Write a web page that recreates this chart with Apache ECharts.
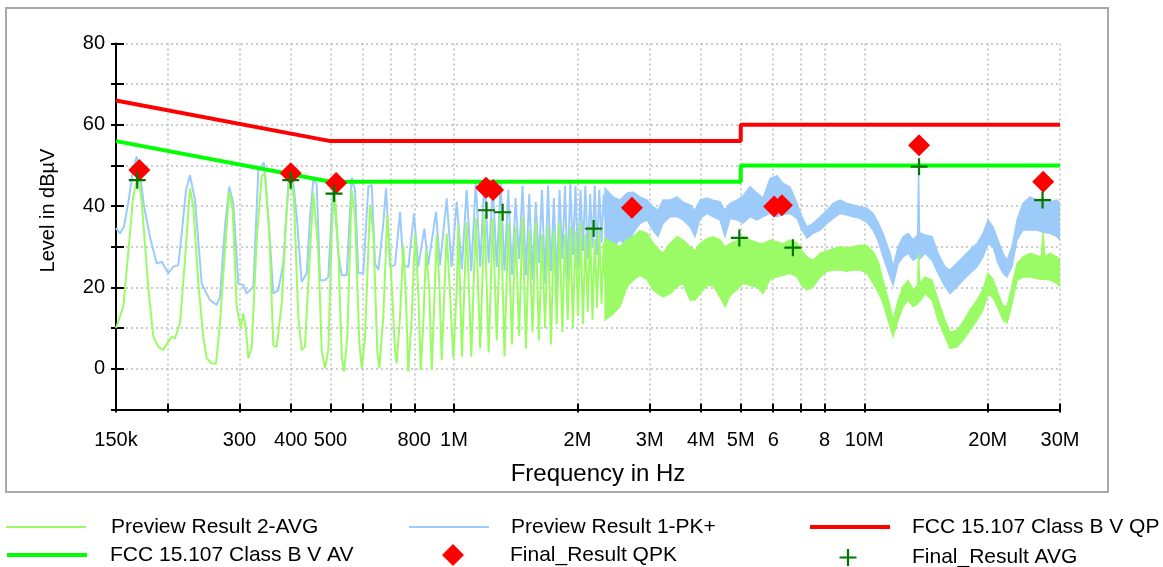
<!DOCTYPE html>
<html>
<head>
<meta charset="utf-8">
<script src="https://cdn.jsdelivr.net/npm/echarts@6/dist/echarts.min.js"></script>
<style>
html,body{margin:0;padding:0;background:#ffffff;}
#chart{width:1163px;height:567px;}
</style>
</head>
<body>
<div id="chart"></div>
<script>
// ---------------- axis ticks (frequency in MHz) ----------------
const xTickValues  = [0.15,0.2,0.3,0.4,0.5,0.6,0.7,0.8,1,2,3,4,5,6,7,8,10,20,30];
const xLabelValues = [0.15,0.3,0.4,0.5,0.8,1,2,3,4,5,6,8,10,20,30];
const xLabelTexts  = ['150k','300','400','500','800','1M','2M','3M','4M','5M','6','8','10M','20M','30M'];
const yLabelValues = [0,20,40,60,80];

// ---------------- Preview Result 1-PK+ : [MHz, dBµV] ----------------
const pkPreviewLine = [
[0.150,34.6],[0.1534,33.3],[0.1569,35.0],[0.1614,42],[0.1650,49],[0.1685,52.2],[0.1716,48],[0.1755,40],
[0.1815,32.5],[0.1885,25.9],[0.1938,26.3],[0.2012,23.5],[0.2069,25.1],[0.2128,25.5],[0.2169,33.3],[0.2222,44],
[0.2272,47.6],[0.2337,41.5],[0.2426,21],[0.2542,16.9],[0.2639,15.7],[0.2689,17.7],[0.2765,34.9],[0.2833,44.8],
[0.2897,40.7],[0.2980,21],[0.3065,20.6],[0.3124,18.5],[0.3242,20.2],[0.3334,48.9],[0.3442,50.7],[0.3526,37.4],
[0.3627,18.5],[0.3730,19.4],[0.3836,25.9],[0.3945,45.6],[0.4021,49.5],[0.4136,37.4],[0.4254,21.4],[0.4375,23.5],
[0.4457,37.4],[0.4540,46.4],[0.4627,45.6],[0.4714,21.8],[0.4848,21.8],[0.4939,22.6],[0.5079,45.5],[0.5224,28.4],
[0.5325,23],[0.5476,23],[0.5632,47],[0.5737,44],[0.5844,23.5],[0.6011,23.5],[0.6182,44.8],[0.6301,45.2],
[0.6419,25.9],[0.6539,24.3],[0.6714,35],[0.6828,44.4],[0.6983,25.1],[0.7181,25.5],[0.7385,38.6],[0.7523,25.5],
[0.7737,25],[0.7989,38.2],[0.8180,25],[0.8465,34.5],[0.8652,25.5],[0.9039,38.6],[0.9244,25.5],[0.9598,41.9],
[0.9866,25],[1.0153,41.1],[1.0453,24.5],[1.0735,44],[1.1018,24],[1.130,46],[1.1583,25],[1.1865,47],
[1.2148,26],[1.243,45],[1.2713,25],[1.2995,46],[1.3278,24],[1.356,44],[1.3843,23],[1.4125,42],
[1.4408,27],[1.469,45],[1.4973,23],[1.5255,43],[1.5538,22],[1.582,41],[1.6103,26],[1.6385,44],
[1.6668,21],[1.695,45],[1.7233,24],[1.7515,42],[1.7798,20],[1.808,44],[1.8363,27],[1.8645,45],
[1.8928,22],[1.921,46],[1.9493,28],[1.9775,45],[2.0058,25],[2.034,44],[2.0623,29],[2.0905,45],
[2.1188,27],[2.147,43],[2.1753,30],[2.2035,45],[2.2318,28],[2.26,44],[2.2883,31],[2.3165,43],[2.334,37]
];
// dense part of the PK+ trace: [MHz, lower edge, upper edge]
const pkPreviewBand = [
[2.334,31.0,44.4],[2.441,30.0,42.3],[2.539,31.7,41.5],[2.640,30.0,43.2],[2.731,33.3,43.5],[2.840,35.8,42.3],
[2.954,36.6,41.5],[3.055,34.1,39.9],[3.142,32.5,39.0],[3.232,35.8,41.5],[3.361,37.4,41.5],[3.496,37.4,42.3],
[3.616,36.6,41.0],[3.761,34.9,40.3],[3.868,32.5,39.0],[3.978,37.0,41.5],[4.137,38.2,42.0],[4.279,37.4,41.5],
[4.451,36.6,41.1],[4.577,32.5,39.0],[4.707,37.0,40.7],[4.896,36.6,41.5],[5.064,35.8,42.5],[5.267,37.4,44.8],
[5.477,36.6,43.2],[5.665,37.4,42.0],[5.892,38.2,46.8],[6.128,37.4,47.5],[6.338,38.0,45.6],[6.591,38.2,44.8],
[6.855,37.0,40.7],[7.050,34.1,37.4],[7.251,32.1,34.9],[7.504,33.3,35.8],[7.805,34.1,37.4],[8.118,35.8,39.0],
[8.396,37.0,40.7],[8.732,38.2,41.5],[9.081,37.8,40.7],[9.393,37.4,40.3],[9.769,37.0,39.9],[10.160,36.0,39.5],
[10.508,34.1,38.2],[10.807,31.5,36.0],[11.115,27.5,33.3],[11.560,22.6,28.4],[11.756,20.6,25.1],[12.091,25.9,30.0],
[12.435,27.5,32.5],[12.789,28.4,33.3],[13.152,26.7,31.7],[13.489,27.5,33.0],[13.565,28.0,49.0],[13.641,27.0,33.5],
[14.069,28.4,32.9],[14.634,26.7,32.5],[15.127,23.5,28.4],[15.733,20.2,25.1],[16.180,18.5,24.3],[16.829,20.2,26.0],
[17.406,21.8,27.5],[18.104,23.5,29.2],[18.830,25.1,30.8],[19.475,27.5,33.3],[20.029,30.8,36.6],[20.599,30.0,34.9],
[21.185,25.9,31.7],[21.787,23.5,28.4],[22.282,22.6,26.7],[22.916,25.1,30.0],[23.568,31.7,36.6],[24.375,34.1,40.7],
[25.352,34.1,42.3],[26.368,34.1,41.5],[26.967,33.8,41.0],[27.271,33.5,42.0],[27.579,33.5,41.0],[28.363,33.3,41.1],
[29.500,32.5,41.5],[30.0,31.7,40.7]
];

// ---------------- Preview Result 2-AVG : [MHz, dBµV] ----------------
const avgPreviewLine = [
[0.150,10],[0.1563,15.3],[0.1605,28],[0.1650,42],[0.1700,48.1],[0.1736,40],[0.1798,20],[0.1849,8],
[0.1902,5.4],[0.1956,4.6],[0.2012,6.7],[0.2051,7.9],[0.2089,7.5],[0.2148,11.2],[0.2209,26.7],[0.2272,44.4],
[0.2315,39.9],[0.2381,21],[0.2448,7.9],[0.2496,2.6],[0.2567,1.3],[0.2629,1.3],[0.2689,11.2],[0.2765,29.2],
[0.2833,43.5],[0.2888,39],[0.2953,15.3],[0.3021,10],[0.3065,13.6],[0.3111,9.5],[0.3152,2.6],[0.3213,5.4],
[0.3304,31.7],[0.3398,47.4],[0.3462,48.1],[0.3546,33.3],[0.3627,5.8],[0.3697,5.4],[0.3802,16.1],[0.3910,39],
[0.3984,48.1],[0.4073,41.5],[0.4173,12.8],[0.4254,4.6],[0.4333,5.4],[0.4414,21],[0.4540,43.2],[0.4669,29.2],
[0.4759,4.6],[0.4848,0.1],[0.4939,4.6],[0.5034,33.3],[0.5108,45],[0.5224,29.2],[0.5325,3],[0.5394,-0.7],
[0.5495,7.9],[0.5632,44],[0.5737,37.4],[0.5878,6.3],[0.5957,0.1],[0.6069,7.9],[0.6241,40.3],[0.6358,33.3],
[0.6502,4.6],[0.6576,0.1],[0.6725,12.8],[0.6878,37.8],[0.7010,25.1],[0.7181,4.6],[0.7250,1.3],[0.7385,12.8],
[0.7523,30.4],[0.7638,16.9],[0.7737,-0.7],[0.7887,12.8],[0.8034,32.9],[0.8180,19.4],[0.8295,-0.3],[0.8417,11.2],
[0.8546,29.2],[0.8705,19.4],[0.8823,-0.3],[0.8938,14.4],[0.9074,32.9],[0.9208,21],[0.9333,2.1],[0.9454,16.9],
[0.9598,33.3],[0.9777,18.5],[0.9960,2.6],[1.0153,19.4],[1.0244,35.3],[1.0453,3],[1.0735,36],[1.1018,3],
[1.130,37],[1.1583,5],[1.1865,38],[1.2148,4],[1.243,37],[1.2713,7],[1.2995,39],[1.3278,3],
[1.356,36],[1.3843,6],[1.4125,35],[1.4408,8],[1.469,37],[1.4973,5],[1.5255,34],[1.5538,9],
[1.582,36],[1.6103,7],[1.6385,33],[1.6668,10],[1.695,35],[1.7233,6],[1.7515,34],[1.7798,11],
[1.808,36],[1.8363,9],[1.8645,33],[1.8928,12],[1.921,35],[1.9493,10],[1.9775,34],[2.0058,13],
[2.034,36],[2.0623,11],[2.0905,33],[2.1188,14],[2.147,35],[2.1753,12],[2.2035,32],[2.2318,15],
[2.26,34],[2.2883,16],[2.3165,31],[2.334,22]
];
const avgPreviewBand = [
[2.334,12.0,32.0],[2.441,13.5,31.0],[2.539,15.3,30.0],[2.640,20.2,31.7],[2.731,21.8,32.5],[2.840,23.0,34.0],
[2.954,22.0,33.3],[3.055,19.5,31.0],[3.142,18.5,29.5],[3.232,17.7,28.4],[3.361,18.5,30.8],[3.496,20.2,32.5],
[3.616,21.0,31.7],[3.761,16.9,30.0],[3.868,16.9,29.0],[3.978,18.5,30.8],[4.137,20.5,32.0],[4.279,20.5,32.5],
[4.451,17.7,31.7],[4.577,15.3,30.0],[4.707,18.0,30.8],[4.896,19.5,31.5],[5.064,21.0,32.5],[5.267,20.5,31.7],
[5.477,20.2,31.0],[5.665,18.5,30.8],[5.892,22.0,31.7],[6.128,22.6,31.2],[6.338,23.0,30.8],[6.591,23.5,31.7],
[6.855,22.6,31.0],[7.050,20.5,29.0],[7.251,19.4,27.5],[7.504,20.2,26.7],[7.805,22.6,28.4],[8.118,24.0,29.0],
[8.396,24.3,29.5],[8.732,24.3,30.0],[9.081,24.0,29.8],[9.393,24.3,30.0],[9.769,24.3,30.4],[10.160,23.5,30.2],
[10.508,21.0,28.8],[10.807,19.0,26.5],[11.115,16.1,21.8],[11.560,10.3,15.3],[11.756,7.9,12.0],[12.091,12.0,16.9],
[12.435,15.3,20.2],[12.789,16.9,21.8],[13.152,15.3,19.4],[13.489,16.0,20.5],[13.565,16.5,28.4],[13.641,16.5,21.0],
[14.069,18.5,22.6],[14.634,16.9,21.8],[15.127,12.0,16.9],[15.733,7.9,12.0],[16.180,5.0,9.0],[16.829,5.4,9.5],
[17.406,7.0,11.5],[18.104,9.5,14.5],[18.830,12.0,16.9],[19.475,14.5,19.5],[20.029,18.5,23.5],[20.599,17.5,22.0],
[21.185,15.0,18.5],[21.787,12.0,15.5],[22.282,11.2,15.3],[22.916,16.0,20.5],[23.568,21.8,25.9],[24.375,22.6,27.5],
[25.352,22.6,28.4],[26.368,22.2,27.8],[26.967,22.0,27.5],[27.271,22.0,33.4],[27.579,22.0,27.5],[28.363,21.8,28.4],
[29.500,21.0,27.5],[30.0,20.2,26.7]
];

// ---------------- FCC 15.107 Class B limits ----------------
const qpLimit = [[0.15,66],[0.5,56],[5,56],[5,60],[30,60]];
const avLimit = [[0.15,56],[0.5,46],[5,46],[5,50],[30,50]];

// ---------------- final results ----------------
const finalQPK = [[0.171,48.9],[0.400,48.1],[0.516,45.7],[1.197,44.5],[1.245,44.0],[2.715,39.6],[6.03,39.9],[6.30,40.2],[13.6,55.0],[27.3,46.0]];
const finalAVG = [[0.169,46.4],[0.400,46.4],[0.510,43.1],[1.200,39.0],[1.314,38.5],[2.19,34.5],[4.96,32.2],[6.70,29.8],[13.6,49.7],[27.2,41.5]];

// ---------------- styling / build ----------------
const FONT = "'Liberation Sans', Arial, Helvetica, sans-serif";
const C_PK = '#9ccbfa', C_AVG = '#9bfb66', C_QP = '#ff0000', C_AV = '#00ff00', C_MARK = '#ff0000', C_CROSS = '#007800';
const PLUS = 'path://M0,7.4H17V9.6H0Z M7.4,0H9.6V17H7.4Z';

const xLabelMap = {};
xLabelValues.forEach((v, i) => { xLabelMap[v.toPrecision(3)] = xLabelTexts[i]; });

function bandSeries(id, band, color, z) {
  return {
    type: 'custom', name: id, z: z, silent: true, animation: false, clip: true,
    data: band, encode: { x: 0, y: [1, 2] },
    renderItem: function (params, api) {
      if (params.dataIndex !== 0) return null;
      const top = band.map(d => api.coord([d[0], d[2]]));
      const bottom = band.map(d => api.coord([d[0], d[1]])).reverse();
      return { type: 'polygon', shape: { points: top.concat(bottom) },
               style: { fill: color, stroke: color, lineWidth: 1.4 } };
    }
  };
}
function lineSeries(name, data, color, width, z) {
  return { type: 'line', name: name, data: data, z: z, symbol: 'none', showSymbol: false,
           animation: false, clip: true, color: color, itemStyle: { color: color },
           lineStyle: { color: color, width: width } };
}
function legendAt(name, left, top, w, h, pad, lineWidth) {
  const lg = { show: true, left: left, top: top, padding: 0, itemWidth: w, itemHeight: h, itemGap: 0,
           selectedMode: false, orient: 'horizontal', data: [name],
           textStyle: { fontSize: 21, color: '#000', fontFamily: FONT, lineHeight: 22, padding: [0, 0, 0, pad] } };
  if (lineWidth) {
    lg.itemStyle = { opacity: 0, borderWidth: 0 };
    lg.lineStyle = { width: lineWidth };
  }
  return lg;
}

const axisLineStyle = { color: '#000', width: 2 };
const gridLine = { show: true, lineStyle: { color: '#bdbdbd', width: 1.5, type: [2, 3] } };

const option = {
  backgroundColor: '#ffffff',
  animation: false,
  textStyle: { fontFamily: FONT },
  grid: { left: 116, right: 103, top: 43.5, bottom: 157.5, containLabel: false },
  graphic: [{ type: 'rect', silent: true, z: -10,
              shape: { x: 6, y: 8, width: 1102, height: 484 },
              style: { fill: 'none', stroke: '#a9a9a9', lineWidth: 2 } }],
  xAxis: [{
    type: 'log', logBase: 10, min: 0.15, max: 30,
    name: 'Frequency in Hz', nameLocation: 'middle', nameGap: 53,
    nameTextStyle: { fontSize: 24, color: '#000', fontFamily: FONT, padding: [0, 0, 0, 20] },
    axisLine: { show: true, onZero: false, lineStyle: axisLineStyle },
    axisTick: { show: true, customValues: xTickValues, length: 3, lineStyle: axisLineStyle },
    axisLabel: { show: true, customValues: xLabelValues, fontSize: 20, color: '#000', fontFamily: FONT, margin: 21,
                 formatter: v => xLabelMap[(+v).toPrecision(3)] || '' },
    splitLine: gridLine,
    minorTick: { show: false }, minorSplitLine: { show: false }
  }, {
    type: 'log', logBase: 10, min: 0.15, max: 30, position: 'bottom',
    axisLine: { show: false, onZero: false },
    axisTick: { show: true, inside: true, customValues: xTickValues, length: 6, lineStyle: axisLineStyle },
    axisLabel: { show: false }, splitLine: { show: false }
  }],
  yAxis: [{
    type: 'value', min: -10, max: 80, interval: 10,
    name: 'Level in dBµV', nameLocation: 'middle', nameGap: 58,
    nameTextStyle: { fontSize: 20, color: '#000', fontFamily: FONT, padding: [0, 0, 0, 32] },
    axisLine: { show: true, onZero: false, lineStyle: axisLineStyle },
    axisTick: { show: true, length: 5, lineStyle: axisLineStyle },
    axisLabel: { show: true, fontSize: 20, color: '#000', fontFamily: FONT, margin: 11,
                 formatter: v => (yLabelValues.indexOf(v) >= 0 ? String(v) : '') },
    splitLine: gridLine
  }, {
    type: 'value', min: -10, max: 80, interval: 10, position: 'left',
    axisLine: { show: false, onZero: false },
    axisTick: { show: true, inside: true, length: 8, lineStyle: axisLineStyle },
    axisLabel: { show: false }, splitLine: { show: false }
  }],
  legend: [
    legendAt('Preview Result 2-AVG', 5, 516, 80, 22, 20, 2),
    legendAt('Preview Result 1-PK+', 408, 516, 80, 22, 17, 2),
    legendAt('FCC 15.107 Class B V QP', 808, 516, 80, 22, 17, 4),
    legendAt('FCC 15.107 Class B V AV', 5, 544, 80, 22, 18, 4),
    legendAt('Final_Result QPK', 442, 544, 22, 22, 41, 0),
    legendAt('Final_Result AVG', 839.5, 546.5, 17, 17, 50.5, 0)
  ],
  series: [
    bandSeries('pkBand', pkPreviewBand, C_PK, 2),
    lineSeries('Preview Result 1-PK+', pkPreviewLine, C_PK, 2, 2),
    bandSeries('avgBand', avgPreviewBand, C_AVG, 3),
    lineSeries('Preview Result 2-AVG', avgPreviewLine, C_AVG, 2, 3),
    lineSeries('FCC 15.107 Class B V QP', qpLimit, C_QP, 4, 4),
    lineSeries('FCC 15.107 Class B V AV', avLimit, C_AV, 4, 4),
    { type: 'scatter', name: 'Final_Result QPK', data: finalQPK, z: 5, symbol: 'diamond', symbolSize: 22,
      animation: false, itemStyle: { color: C_MARK, opacity: 1 } },
    { type: 'scatter', name: 'Final_Result AVG', data: finalAVG, z: 6, symbol: PLUS, symbolSize: 17,
      animation: false, itemStyle: { color: C_CROSS, opacity: 1 } }
  ]
};

const chart = echarts.init(document.getElementById('chart'), null, { renderer: 'canvas' });
chart.setOption(option);
</script>
</body>
</html>
